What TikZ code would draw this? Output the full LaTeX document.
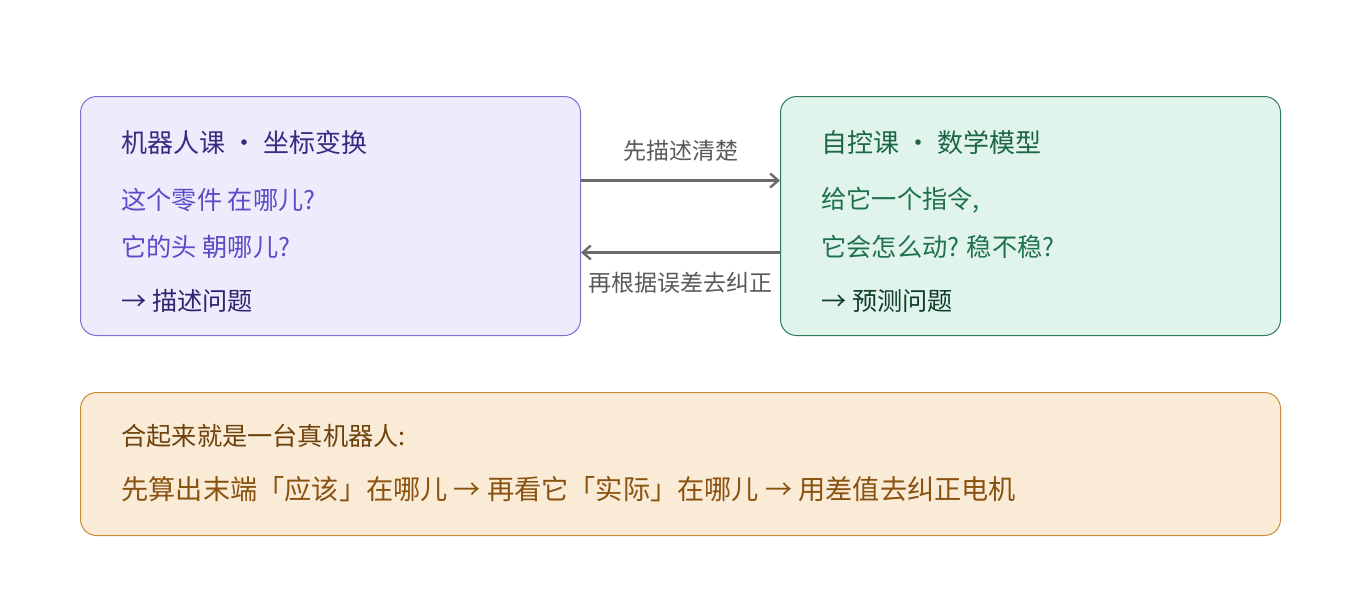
\documentclass[tikz,border=0pt]{standalone}
\usepackage{fontspec}
\setmainfont{Noto Sans CJK SC}
\usetikzlibrary{positioning,arrows.meta}
\definecolor{lfill}{HTML}{EEECFC}
\definecolor{ldraw}{HTML}{7B6FD0}
\definecolor{ltext}{HTML}{5A4BC9}
\definecolor{ldark}{HTML}{2E2470}
\definecolor{rfill}{HTML}{E1F4EC}
\definecolor{rdraw}{HTML}{2F7A5A}
\definecolor{rtext}{HTML}{1F7050}
\definecolor{rdark}{HTML}{0F3D2A}
\definecolor{bfill}{HTML}{FAEBD7}
\definecolor{bdraw}{HTML}{C98A3A}
\definecolor{btext}{HTML}{8A5210}
\tikzset{
  box/.style={draw, rounded corners=8pt, line width=0.5pt, inner sep=0pt},
  line/.style={anchor=west, inner sep=0pt, font=\fontsize{12.6}{14}\selectfont},
  head/.style={line, font=\fontsize{13}{15}\selectfont},
  flow/.style={draw=black!58, line width=1.2pt, -{Straight Barb[length=4pt,width=7pt]}},
  flowlabel/.style={text=black!65, inner sep=0pt, font=\fontsize{11.5}{13}\selectfont}
}
\begin{document}
\begin{tikzpicture}[x=0.5pt,y=-0.5pt]
\useasboundingbox (0,0) rectangle (1360,600);
% boxes
\node[box, fill=lfill, draw=ldraw, minimum width=250pt, minimum height=119.5pt, anchor=north west] (lbox) at (80,96) {};
\node[box, fill=rfill, draw=rdraw, minimum width=250pt, minimum height=119.5pt, anchor=north west] (rbox) at (780,96) {};
\node[box, fill=bfill, draw=bdraw, minimum width=600pt, minimum height=71.5pt, anchor=north west] (bbox) at (80,392) {};
% left text
\node[head, text=ldark!80!ltext] (ltitle) at (121,143) {机器人课 · 坐标变换};
\node[line, text=ltext] (lq1) at (121,200) {这个零件 在哪儿?};
\node[line, text=ltext] (lq2) at (121,247) {它的头 朝哪儿?};
\node[line, text=ldark] (lres) at (121,301) {→ 描述问题};
% right text
\node[head, text=rtext!80!rdark] (rtitle) at (821,143) {自控课 · 数学模型};
\node[line, text=rtext] (rq1) at (821,200) {给它一个指令,};
\node[line, text=rtext] (rq2) at (821,247) {它会怎么动?  稳不稳?};
\node[line, text=rdark] (rres) at (821,301) {→ 预测问题};
% bottom text
\node[line, text=btext!80!black] (btitle) at (121,436) {合起来就是一台真机器人:};
\node[line, text=btext, font=\fontsize{13.6}{16}\selectfont] (bline) at (121,489) {先算出末端「应该」在哪儿 → 再看它「实际」在哪儿 → 用差值去纠正电机};
% connectors
\draw[flow] ([yshift=17.75pt]lbox.east) -- node[flowlabel, above=9pt] (fwd) {先描述清楚} ([yshift=17.75pt]rbox.west);
\draw[flow] ([yshift=-18.25pt]rbox.west) -- node[flowlabel, below=9pt] (bwd) {再根据误差去纠正} ([yshift=-18.25pt]lbox.east);
\end{tikzpicture}
\end{document}
